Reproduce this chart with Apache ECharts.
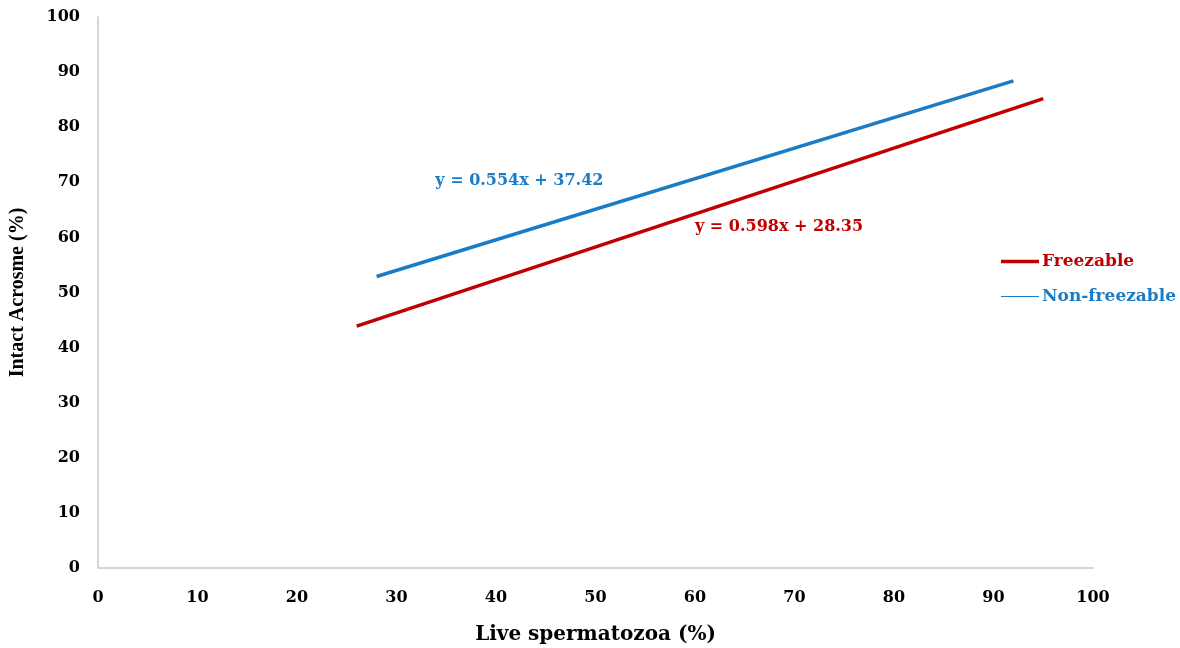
<!DOCTYPE html>
<html>
<head>
<meta charset="utf-8">
<script src="https://cdn.jsdelivr.net/npm/echarts@6/dist/echarts.min.js"></script>
<style>
  html, body { margin: 0; padding: 0; background: #fff; }
  #chart { width: 1180px; height: 648px; }
</style>
</head>
<body>
<div id="chart"></div>
<script>
// trend line end points
const freezableX = [26, 95];
const freezableY = [43.9, 85.2];
const nonFreezableX = [28, 92];
const nonFreezableY = [52.9, 88.4];

const seriesNames = ["Freezable", "Non-freezable"];
const equations = ["y = 0.598x + 28.35", "y = 0.554x + 37.42"];
// where the equation text starts (data coords)
const eqAnchorX = [60, 33.9];
const eqAnchorY = [61.9, 70.2];

const axisTicks = [0, 10, 20, 30, 40, 50, 60, 70, 80, 90, 100];

const RED = "#c00000";
const BLUE = "#1a7bc6";
const WIDE = "DejaVu Serif";      // the picture's text is stretched sideways
const SERIF = "Liberation Serif";

const pairs = (xs, ys) => xs.map((x, i) => [x, ys[i]]);

var myChart = echarts.init(document.getElementById("chart"));

const axisCommon = {
    type: "value",
    min: axisTicks[0],
    max: axisTicks[axisTicks.length - 1],
    interval: 10,
    splitLine: { show: false },
    axisTick: { show: false },
    axisLine: { show: true, lineStyle: { color: "#c8c8c8", width: 1.5 } },
    axisLabel: { color: "#000", fontFamily: WIDE, fontWeight: "bold", fontSize: 16 },
    nameLocation: "middle",
    nameTextStyle: { color: "#000", fontFamily: WIDE, fontWeight: "bold", fontSize: 20 },
};

const legendCommon = {
    orient: "vertical",
    left: 996,
    itemWidth: 38,
    itemGap: 4,
    icon: "rect",
    textStyle: { fontFamily: WIDE, fontWeight: "bold", fontSize: 17, padding: [0, 0, 0, -2] },
};

const option = {
    animation: false,
    grid: { left: 98, right: 87, top: 17, bottom: 80, outerBoundsMode: "none" },
    xAxis: Object.assign({}, axisCommon, {
        name: "Live spermatozoa (%)",
        nameGap: 57,
        axisLabel: Object.assign({}, axisCommon.axisLabel, { margin: 22 }),
    }),
    yAxis: Object.assign({}, axisCommon, {
        name: "Intact Acrosme (%)",
        nameGap: 70,
        nameTextStyle: { color: "#000", fontFamily: SERIF, fontWeight: "bold", fontSize: 20 },
        axisLabel: Object.assign({}, axisCommon.axisLabel, { margin: 18 }),
    }),
    legend: [
        Object.assign({}, legendCommon, {
            top: 248,
            itemHeight: 3.5,
            data: [{ name: seriesNames[0], textStyle: { color: RED } }],
        }),
        Object.assign({}, legendCommon, {
            top: 283,
            itemHeight: 1.2,
            data: [{ name: seriesNames[1], textStyle: { color: BLUE } }],
        }),
    ],
    series: [
        {
            name: seriesNames[0],
            type: "line",
            data: pairs(freezableX, freezableY),
            symbol: "none",
            lineStyle: { color: RED, width: 3.5 },
            itemStyle: { color: RED },
        },
        {
            name: seriesNames[1],
            type: "line",
            data: pairs(nonFreezableX, nonFreezableY),
            symbol: "none",
            lineStyle: { color: BLUE, width: 3.5 },
            itemStyle: { color: BLUE },
        },
    ],
};
myChart.setOption(option);

// equation labels placed through the axis scales
const eqColors = [RED, BLUE];
myChart.setOption({
    graphic: equations.map((txt, i) => {
        const p = myChart.convertToPixel({ gridIndex: 0 }, [eqAnchorX[i], eqAnchorY[i]]);
        return {
            type: "text",
            x: p[0],
            y: p[1],
            style: {
                text: txt,
                fill: eqColors[i],
                font: "bold 16px " + WIDE,
                textVerticalAlign: "middle",
            },
        };
    }),
});
</script>
</body>
</html>
